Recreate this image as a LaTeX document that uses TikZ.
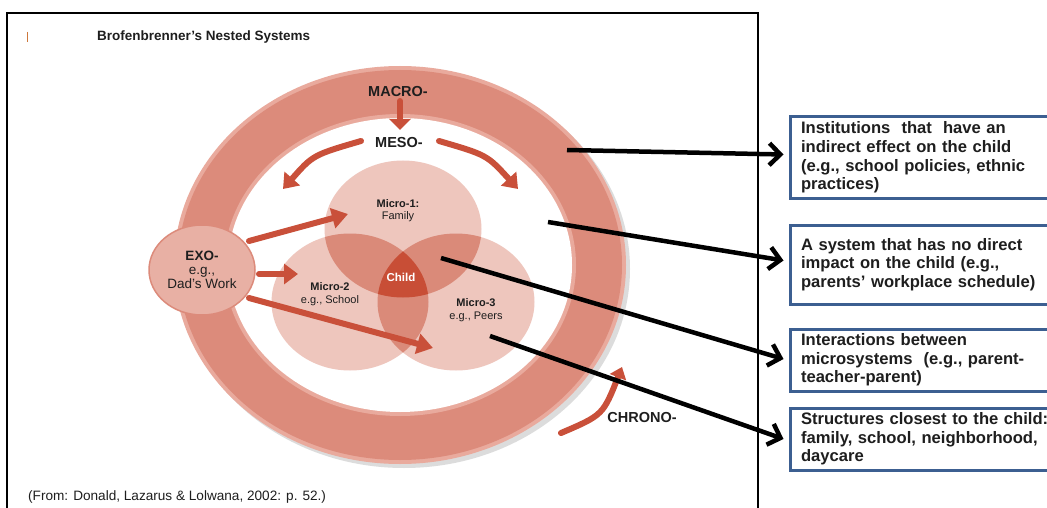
\documentclass[tikz,border=0pt]{standalone}
\usepackage{fontspec}
\setmainfont{Liberation Sans}
\usetikzlibrary{arrows.meta,shapes.geometric}
\definecolor{ringmain}{HTML}{DC8B7B}
\definecolor{ringlight}{HTML}{E9AA9D}
\definecolor{shadowgrey}{HTML}{DCDCDC}
\definecolor{vennlight}{HTML}{EEC6BD}
\definecolor{vennmid}{HTML}{DA8A79}
\definecolor{childred}{HTML}{C84E36}
\definecolor{exofill}{HTML}{E8B0A4}
\definecolor{exoborder}{HTML}{DC8B7B}
\definecolor{redarr}{HTML}{C9503A}
\definecolor{boxblue}{HTML}{3C5F91}
\definecolor{ticko}{HTML}{CD783C}
\definecolor{txt}{HTML}{1E1E1E}
\begin{document}
\begin{tikzpicture}[x=1pt,y=-1pt,
  lbl/.style={inner sep=0pt, text=txt, align=center},
  bigl/.style={lbl, font=\fontsize{14.5}{16}\selectfont\bfseries},
  smalll/.style={lbl, font=\fontsize{11}{12.5}\selectfont},
  redarrow/.style={draw=redarr, line width=6pt, line cap=round, -{Triangle[length=14pt,width=20pt]}},
  blackarrow/.style={draw=black, line width=4.5pt, -{Straight Barb[length=11pt,width=22pt]}},
  infobox/.style={draw=boxblue, line width=3pt, anchor=north west, text width=250pt,
     inner xsep=11pt, inner ysep=2pt, align=left, text=txt,
     font=\fontsize{16.6}{18.7}\selectfont\bfseries}]
\useasboundingbox (0,0) rectangle (1047,508);
\clip (0,0) rectangle (1047,508);
\fill[white] (0,0) rectangle (1047,508);

% frame and tick
\draw[line width=1.5pt] (7,520) -- (7,13) -- (758,13) -- (758,520);
\draw[ticko, line width=0.8pt] (27,32) -- (27,42);

% title and citation
\node[lbl, anchor=west, font=\fontsize{13.5}{16}\selectfont\bfseries] (title) at (97,37) {Brofenbrenner's Nested Systems};
\node[lbl, anchor=west, font=\fontsize{13.6}{16}\selectfont] (cite) at (28,497) {(From: Donald, Lazarus \& Lolwana, 2002: p. 52.)};

% ring
\fill[shadowgrey] (404,269) ellipse [x radius=226, y radius=199];
\fill[ringlight] (400,265) ellipse [x radius=226, y radius=199];
\fill[ringmain] (400,265) ellipse [x radius=222, y radius=195];
\fill[ringlight] (400,265) ellipse [x radius=176, y radius=151];
\fill[white] (400,265) ellipse [x radius=172, y radius=147];

% venn
\fill[vennlight] (403,229) ellipse [x radius=78.5, y radius=68.5];
\fill[vennlight] (350,302) ellipse [x radius=78.5, y radius=68.5];
\fill[vennlight] (456,302) ellipse [x radius=78.5, y radius=68.5];
\begin{scope}
  \clip (403,229) ellipse [x radius=78.5, y radius=68.5];
  \fill[vennmid] (350,302) ellipse [x radius=78.5, y radius=68.5];
  \fill[vennmid] (456,302) ellipse [x radius=78.5, y radius=68.5];
\end{scope}
\begin{scope}
  \clip (350,302) ellipse [x radius=78.5, y radius=68.5];
  \fill[vennmid] (456,302) ellipse [x radius=78.5, y radius=68.5];
\end{scope}
\begin{scope}
  \clip (403,229) ellipse [x radius=78.5, y radius=68.5];
  \clip (350,302) ellipse [x radius=78.5, y radius=68.5];
  \fill[childred] (456,302) ellipse [x radius=78.5, y radius=68.5];
\end{scope}

% EXO
\node[ellipse, draw=exoborder, line width=1.5pt, fill=exofill, minimum width=106pt, minimum height=90pt,
      inner sep=0pt, align=center, text=txt, font=\fontsize{13.5}{13.8}\selectfont] (exo) at (202,270)
      {\textbf{EXO-}\\e.g.,\\Dad's Work};

% labels
\node[bigl] (macro) at (398,92) {MACRO-};
\node[bigl] (meso) at (399,143) {MESO-};
\node[bigl] (chrono) at (642,418) {CHRONO-};
\node[smalll] (m1) at (398,210.5) {\textbf{Micro-1:}\\Family};
\node[smalll] (m2) at (330,294) {\textbf{Micro-2}\\e.g., School};
\node[smalll] (m3) at (476,310) {\textbf{Micro-3}\\e.g., Peers};
\node[lbl, text=white, font=\fontsize{11.5}{12}\selectfont\bfseries] (child) at (401,277) {Child};

% red arrows
\coordinate (macroS) at (400,101);
\coordinate (macroE) at (400,130);
\draw[redarrow, -{Triangle[length=11pt,width=21pt]}] (macroS) -- (macroE);
\coordinate (mesoLS) at (361,141);
\coordinate (mesoLE) at (283,189);
\coordinate (mesoRS) at (439,141);
\coordinate (mesoRE) at (518,189);
\draw[redarrow] (mesoLS) .. controls (313,155) .. (mesoLE);
\draw[redarrow] (mesoRS) .. controls (487,155) .. (mesoRE);
\coordinate (exo1S) at (249,241);
\coordinate (exo1E) at (348,214);
\coordinate (exo2S) at (259,274);
\coordinate (exo2E) at (298,274);
\coordinate (exo3S) at (249,298);
\coordinate (exo3E) at (433,348);
\draw[redarrow, -{Triangle[length=16pt,width=20pt]}] (exo1S) -- (exo1E);
\draw[redarrow, -{Triangle[length=14pt,width=20pt]}] (exo2S) -- (exo2E);
\draw[redarrow, -{Triangle[length=16pt,width=20pt]}] (exo3S) -- (exo3E);
\coordinate (chronoS) at (561,433);
\coordinate (chronoE) at (622,367);
\draw[redarrow, -{Triangle[length=11pt,width=17pt]}] (chronoS) .. controls (603,415) .. (chronoE);

% boxes
\node[infobox, minimum height=81pt] (box1) at (788.5,115.5)
  {Institutions\ \ that\ \ have an\\indirect effect on the child\\(e.g., school policies, ethnic\\practices)};
\node[infobox, minimum height=79pt] (box2) at (788.5,223.5)
  {A system that has no direct\\impact on the child (e.g.,\\parents' workplace schedule)};
\node[infobox, minimum height=62pt] (box3) at (788.5,327.5)
  {Interactions between\\microsystems\ \ (e.g., parent-\\teacher-parent)};
\node[infobox, minimum height=62pt] (box4) at (788.5,406.5)
  {Structures closest to the child:\\family, school, neighborhood,\\daycare};

% black arrows
\coordinate (b1S) at (567,150);
\coordinate (b2S) at (548,222);
\coordinate (b3S) at (441,258);
\coordinate (b4S) at (490,336);
\draw[blackarrow] (b1S) -- ([xshift=-5pt,yshift=3pt]box1.west);
\draw[blackarrow] (b2S) -- ([xshift=-5pt,yshift=4pt]box2.west);
\draw[blackarrow] (b3S) -- ([xshift=-5pt,yshift=1pt]box3.west);
\draw[blackarrow] (b4S) -- ([xshift=-5pt]box4.west);
\end{tikzpicture}
\end{document}
